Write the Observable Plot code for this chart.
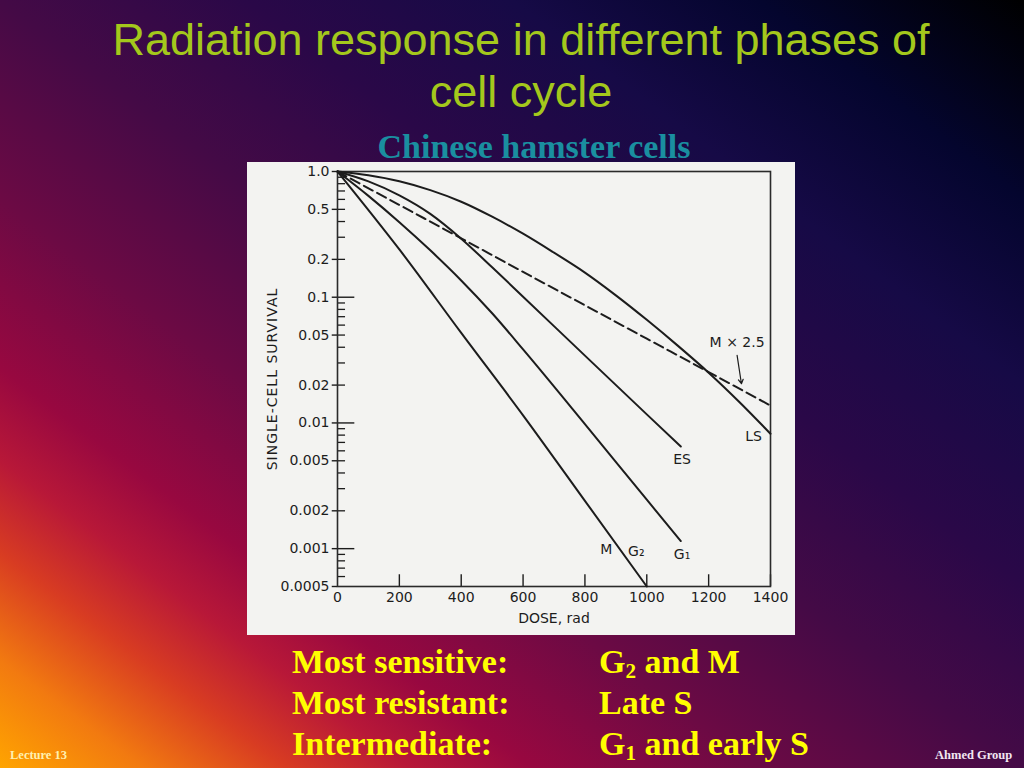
<!DOCTYPE html>
<html>
<head>
<meta charset="utf-8">
<script src="https://cdn.jsdelivr.net/npm/d3@7"></script>
<script src="https://cdn.jsdelivr.net/npm/@observablehq/plot@0.6"></script>
<style>
  html, body { margin: 0; padding: 0; width: 1024px; height: 768px; overflow: hidden; }
  #slide {
    position: relative; width: 1024px; height: 768px; overflow: hidden;
    background: linear-gradient(to top right,
      #ffa400 0%, #f27a10 7%, #d83c22 14%, #b81838 20%, #980840 26%,
      #6c0a44 37%, #440a46 50%, #2a0848 62%, #160a46 75%, #04052e 87%, #000000 100%);
  }
  .title {
    position: absolute; left: 521px; top: 14px; transform: translateX(-50%);
    white-space: nowrap; text-align: center;
    font-family: "Liberation Sans", Arial, sans-serif; font-size: 45px; line-height: 52px;
    color: #a4c81c;
  }
  .sub {
    position: absolute; left: 534px; top: 127px; transform: translateX(-50%);
    white-space: nowrap;
    font-family: "Liberation Serif", "Times New Roman", serif; font-weight: bold;
    font-size: 34px; line-height: 40px; color: #1a8fa0;
  }
  #chart { position: absolute; left: 247px; top: 162px; width: 548px; height: 473px; }
  .notes {
    position: absolute; top: 641px;
    font-family: "Liberation Serif", "Times New Roman", serif; font-weight: bold;
    font-size: 34px; line-height: 41px; color: #ffff00; white-space: nowrap;
  }
  .notes sub { font-size: 0.62em; vertical-align: -0.22em; line-height: 0; }
  .foot {
    position: absolute; top: 748px;
    font-family: "Liberation Serif", "Times New Roman", serif; font-weight: bold;
    font-size: 12.5px; line-height: 14px; white-space: nowrap;
  }
</style>
</head>
<body>
<div id="slide">
  <div class="title">Radiation response in different phases of<br>cell cycle</div>
  <div class="sub">Chinese hamster cells</div>
  <div id="chart"></div>
  <div class="notes" style="left:292px">Most sensitive:<br>Most resistant:<br>Intermediate:</div>
  <div class="notes" style="left:599px">G<sub>2</sub> and M<br>Late S<br>G<sub>1</sub> and early S</div>
  <div class="foot" style="left:10px; color:#fff0b0">Lecture 13</div>
  <div class="foot" style="left:935px; color:#f2e6f2">Ahmed Group</div>
</div>
<script>
// ---- data (dose in rad, single-cell survival) ----
const doseM  = [0, 200, 400, 600, 800, 1000];
const survM  = [1.0, 0.24, 0.052, 0.0115, 0.0024, 0.0005];

const doseG1 = [0, 100, 200, 300, 400, 500, 600, 800, 1000, 1110];
const survG1 = [1.0, 0.64, 0.395, 0.236, 0.136, 0.0745, 0.0385, 0.0098, 0.00245, 0.00115];

const doseES = [0, 100, 200, 300, 400, 500, 600, 800, 1000, 1110];
const survES = [1.0, 0.834, 0.646, 0.46, 0.292, 0.173, 0.101, 0.0343, 0.0117, 0.0065];

const doseLS = [0, 100, 200, 300, 400, 500, 600, 700, 800, 900, 1000, 1100, 1200, 1300, 1400];
const survLS = [1.0, 0.933, 0.836, 0.711, 0.575, 0.437, 0.320, 0.226, 0.157, 0.1035, 0.0661, 0.0412, 0.0251, 0.01462, 0.0082];

const doseM25 = [0, 200, 400, 600, 800, 1000, 1200, 1400];
const survM25 = [1.0, 0.542, 0.294, 0.159, 0.0863, 0.0468, 0.0254, 0.01374];

const xTicks = [0, 200, 400, 600, 800, 1000, 1200, 1400];
const yLabelTicks = [1, 0.5, 0.2, 0.1, 0.05, 0.02, 0.01, 0.005, 0.002, 0.001, 0.0005];
const yLabelText = ["1.0", "0.5", "0.2", "0.1", "0.05", "0.02", "0.01", "0.005", "0.002", "0.001", "0.0005"];
const yDecadeTicks = [0.1, 0.01, 0.001];
const yMinorTicks = [
  0.9, 0.8, 0.7, 0.6, 0.5, 0.4, 0.3, 0.2,
  0.09, 0.08, 0.07, 0.06, 0.05, 0.04, 0.03, 0.02,
  0.009, 0.008, 0.007, 0.006, 0.005, 0.004, 0.003, 0.002,
  0.0009, 0.0008, 0.0007, 0.0006
];

const annotations = [
  {text: "LS", dose: 1345, surv: 0.0078},
  {text: "ES", dose: 1114, surv: 0.0051},
  {text: "M", dose: 869, surv: 0.00098},
  {text: "G₂", dose: 966, surv: 0.00095},
  {text: "G₁", dose: 1114, surv: 0.00090},
  {text: "M × 2.5", dose: 1292, surv: 0.0438}
];
const arrowSpec = [{d1: 1292, s1: 0.0345, d2: 1306, s2: 0.0205}];

// ---- tidy tables ----
const solid = [];
[["M", doseM, survM], ["G1", doseG1, survG1], ["ES", doseES, survES], ["LS", doseLS, survLS]]
  .forEach(([k, xs, ys]) => xs.forEach((x, i) => solid.push({curve: k, dose: x, surv: ys[i]})));
const dashed = doseM25.map((x, i) => ({dose: x, surv: survM25[i]}));
const yLabels = yLabelTicks.map((v, i) => ({v, label: yLabelText[i]}));

const ink = "#1c1c1c";
const chart = Plot.plot({
  width: 548,
  height: 473,
  marginLeft: 90,
  marginRight: 25,
  marginTop: 9,
  marginBottom: 49,
  style: {background: "#f3f3f1", fontFamily: "DejaVu Sans, sans-serif", fontSize: "14px", color: ink},
  x: {domain: [0, 1400]},
  y: {type: "log", domain: [0.0005, 1], axis: null},
  marks: [
    Plot.ruleY(yMinorTicks, {y: d => d, x1: 0, x2: 26, stroke: ink, strokeWidth: 1.3}),
    Plot.ruleY(yDecadeTicks, {y: d => d, x1: 0, x2: 56, stroke: ink, strokeWidth: 1.4}),
    Plot.ruleY(yLabels, {y: "v", x1: -17, x2: 0, stroke: ink, strokeWidth: 1.4}),
    Plot.text(yLabels, {x: 0, y: "v", text: "label", textAnchor: "end", dx: -8, fill: ink, fontSize: 14}),
    Plot.ruleX(xTicks.filter(d => d > 0), {x: d => d, y1: 0.0005, y2: 0.00062, stroke: ink, strokeWidth: 1.4}),
    Plot.axisX({ticks: xTicks, tickSize: 0, tickPadding: 6, tickFormat: d => String(d), label: null}),
    Plot.frame({stroke: "#2a2a2a", strokeWidth: 1.6}),
    Plot.line(solid, {x: "dose", y: "surv", z: "curve", stroke: ink, strokeWidth: 2, curve: "monotone-x"}),
    Plot.line(dashed, {x: "dose", y: "surv", stroke: ink, strokeWidth: 2, strokeDasharray: "10,5", curve: "monotone-x"}),
    Plot.text(annotations, {x: "dose", y: "surv", text: "text", fill: ink, fontSize: 14}),
    Plot.arrow(arrowSpec, {x1: "d1", y1: "s1", x2: "d2", y2: "s2", stroke: ink, strokeWidth: 1.2, headLength: 6}),
    Plot.text(["SINGLE-CELL SURVIVAL"], {text: d => d, frameAnchor: "left", textAnchor: "middle", lineAnchor: "middle", rotate: -90, dx: -65, fill: ink, fontSize: 14}),
    Plot.text(["DOSE, rad"], {text: d => d, frameAnchor: "bottom", textAnchor: "middle", lineAnchor: "middle", dy: 32, fill: ink, fontSize: 14})
  ]
});
document.getElementById("chart").appendChild(chart);
chart.querySelectorAll("text").forEach(t => {
  if (t.textContent === "SINGLE-CELL SURVIVAL") t.style.letterSpacing = "1px";
});
</script>
</body>
</html>
